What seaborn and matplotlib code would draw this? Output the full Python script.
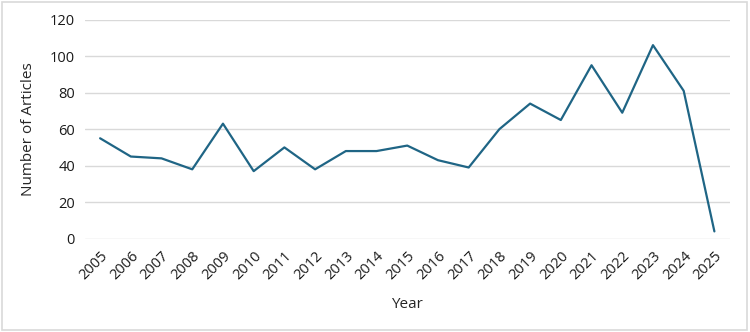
import seaborn as sns
import pandas as pd
import matplotlib.pyplot as plt
from matplotlib.patches import Rectangle

years = [str(y) for y in range(2005, 2026)]
articles = [55, 45, 44, 38, 63, 37, 50, 38, 48, 48, 51, 43, 39, 60, 74, 65, 95, 69, 106, 81, 4]

df = pd.DataFrame({'Year': years, 'Number of Articles': articles})

sns.set_style('white')
plt.rcParams['font.family'] = ['Open Sans', 'DejaVu Sans']
plt.rcParams['font.size'] = 10

fig = plt.figure(figsize=(7.5, 3.32), dpi=100)
ax = fig.add_axes([0.113, 0.281, 0.86, 0.66])
sns.lineplot(data=df, x='Year', y='Number of Articles', color='#1f6585',
             linewidth=1.6, ax=ax, sort=False)

ax.set_xlim(-0.5, len(years) - 0.5)
ax.set_ylim(0, 120)
ax.set_yticks(range(0, 121, 20))
ax.yaxis.grid(True, color='#d9d9d9', linewidth=1)
ax.set_axisbelow(True)
sns.despine(ax=ax, left=True, bottom=True)
ax.tick_params(axis='both', length=0, labelsize=10.5, colors='#1a1a1a', pad=7)
plt.setp(ax.get_xticklabels(), rotation=45, ha='right', rotation_mode='anchor')
ax.set_xlabel('Year', fontsize=11, labelpad=10)
ax.set_ylabel('Number of Articles', fontsize=11, labelpad=10)

fig.patches.append(Rectangle((0.003, 0.005), 0.993, 0.988, transform=fig.transFigure,
                             fill=False, edgecolor='#d9d9d9', linewidth=1.2))

plt.savefig('out.png', dpi=100)
